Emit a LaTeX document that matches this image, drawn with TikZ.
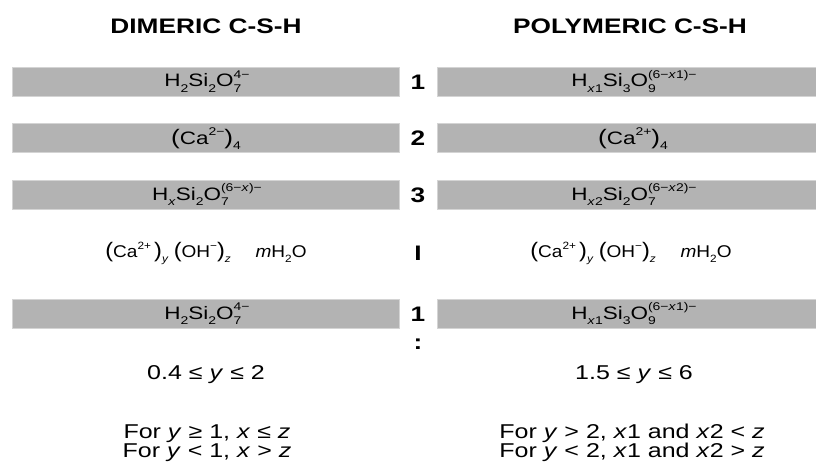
\documentclass[tikz,border=0pt]{standalone}
\usepackage{fontspec}
\setmainfont{Liberation Sans}
\usepackage{graphicx}
\definecolor{barfill}{RGB}{179,179,179}
\definecolor{baredge}{RGB}{212,212,212}
\newcommand\up[1]{\raisebox{0.46em}{\scalebox{0.62}{#1}}}
\newcommand\dn[1]{\raisebox{-0.32em}{\scalebox{0.62}{#1}}}
\newcommand\SupSub[2]{{\setbox0\hbox{\up{#1}}\setbox2\hbox{\dn{#2}}\ifdim\wd0>\wd2 \rlap{\box2}\box0\else\rlap{\box0}\box2\fi}}
\newcommand\hs[1]{\scalebox{1.25}[1]{#1}}
\newcommand\hsi[1]{\scalebox{1.12}[1]{#1}}
\newcommand\bigp[1]{{\fontsize{21}{21}\selectfont\raisebox{-0.5pt}{#1}}}
\tikzset{
  bar/.style={rectangle, fill=barfill, draw=baredge, line width=0.8pt, minimum height=29, inner sep=0pt},
  ttl/.style={font=\bfseries\fontsize{21}{25}\selectfont, anchor=base, inner sep=0pt},
  num/.style={font=\bfseries\fontsize{21}{25}\selectfont, inner sep=0pt},
  bartext/.style={font=\fontsize{18}{22}\selectfont, anchor=base, inner sep=0pt},
  iontext/.style={font=\fontsize{17}{20}\selectfont, anchor=base, inner sep=0pt},
  cond/.style={font=\fontsize{20}{24}\selectfont, anchor=base, inner sep=0pt},
}
\begin{document}
\begin{tikzpicture}[x=1pt,y=-1pt]
\useasboundingbox (0,0) rectangle (816,468);
% titles
\node[ttl] (tL) at (206,34) {\hs{DIMERIC C-S-H}};
\node[ttl] (tR) at (630,34) {\hs{POLYMERIC C-S-H}};
% bars
\node[bar, minimum width=387] (L1) at (205.5,81.5) {};
\node[bar, minimum width=387] (L2) at (205.5,138) {};
\node[bar, minimum width=387] (L3) at (205.5,194.5) {};
\node[bar, minimum width=387] (L5) at (205.5,313.5) {};
\node[bar, minimum width=381] (R1) at (627.5,81.5) {};
\node[bar, minimum width=381] (R2) at (627.5,138) {};
\node[bar, minimum width=381] (R3) at (627.5,194.5) {};
\node[bar, minimum width=381] (R5) at (627.5,313.5) {};
% bar texts
\node[bartext] (L1t) at (207,87) {\hs{H\dn{2}Si\dn{2}O\SupSub{4−}{7}}};
\node[bartext] (L2t) at (206,144) {\hs{\bigp{(}Ca\up{2−}\bigp{)}\dn{4}}};
\node[bartext] (L3t) at (207,200) {\hs{H\dn{\textit{x}}Si\dn{2}O\SupSub{(6−\textit{x})−}{7}}};
\node[bartext] (L5t) at (207,319) {\hs{H\dn{2}Si\dn{2}O\SupSub{4−}{7}}};
\node[bartext] (R1t) at (634,87) {\hs{H\dn{\textit{x}1}Si\dn{3}O\SupSub{(6−\textit{x}1)−}{9}}};
\node[bartext] (R2t) at (633,144) {\hs{\bigp{(}Ca\up{2+}\bigp{)}\dn{4}}};
\node[bartext] (R3t) at (634,200) {\hs{H\dn{\textit{x}2}Si\dn{2}O\SupSub{(6−\textit{x}2)−}{7}}};
\node[bartext] (R5t) at (634,319) {\hs{H\dn{\textit{x}1}Si\dn{3}O\SupSub{(6−\textit{x}1)−}{9}}};
% ion rows
\node[iontext] (LI) at (206,257) {\hsi{\bigp{(}Ca\up{2+}\,\bigp{)}\dn{\textit{y}}\ \bigp{(}OH\up{−}\bigp{)}\dn{\textit{z}}\hspace{1.3em}\textit{m}H\dn{2}O}};
\node[iontext] (RI) at (631,257) {\hsi{\bigp{(}Ca\up{2+}\,\bigp{)}\dn{\textit{y}}\ \bigp{(}OH\up{−}\bigp{)}\dn{\textit{z}}\hspace{1.3em}\textit{m}H\dn{2}O}};
% middle numbers
\node[num] (n1) at (418,82) {\hs{1}};
\node[num] (n2) at (418,138) {\hs{2}};
\node[num] (n3) at (418,195) {\hs{3}};
\node[num] (nI) at (418,253) {\hs{I}};
\node[num] (n5) at (418,314) {\hs{1}};
\node[num] (nc) at (418,344) {\hs{:}};
% conditions
\node[cond] (cL) at (206,379) {\hs{0.4 ≤ \textit{y} ≤ 2}};
\node[cond] (cR) at (634,379) {\hs{1.5 ≤ \textit{y} ≤ 6}};
\node[cond] (fL1) at (207,438) {\hs{For \textit{y} ≥ 1, \textit{x} ≤ \textit{z}}};
\node[cond] (fL2) at (207,457) {\hs{For \textit{y} < 1, \textit{x} > \textit{z}}};
\node[cond] (fR1) at (632,438) {\hs{For \textit{y} > 2, \textit{x}1 and \textit{x}2 < \textit{z}}};
\node[cond] (fR2) at (632,457) {\hs{For \textit{y} < 2, \textit{x}1 and \textit{x}2 > \textit{z}}};
\end{tikzpicture}
\end{document}
